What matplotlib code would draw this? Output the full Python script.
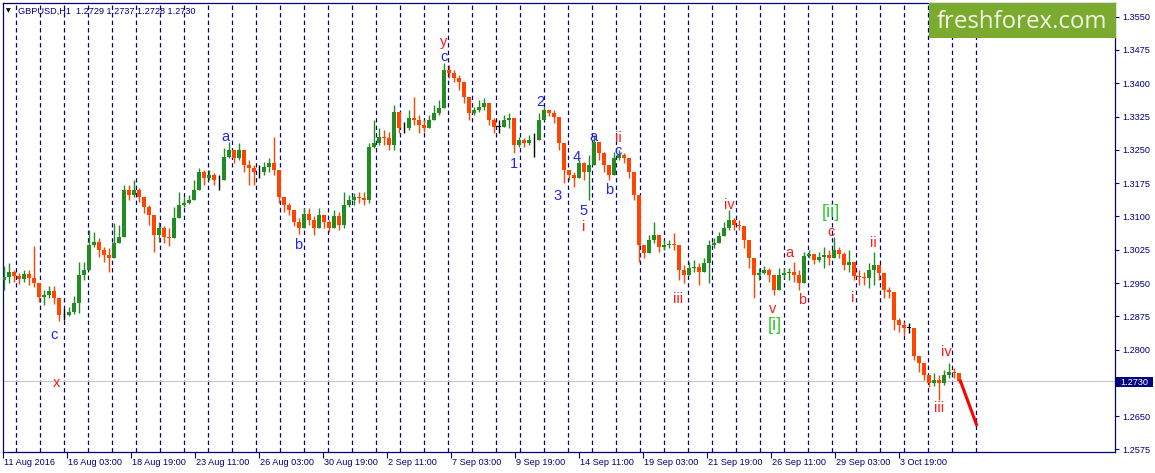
import numpy as np
import matplotlib
matplotlib.use("Agg")
import matplotlib.pyplot as plt
from matplotlib.patches import Rectangle
from matplotlib.transforms import ScaledTranslation

# GBPUSD H1, 11 Aug - 4 Oct 2016, every 5 hourly bars
first_open = 1.2957
close = [
    1.2964, 1.2975, 1.2966, 1.2959, 1.2970, 1.2961, 1.2950, 1.2919, 1.2923, 1.2932,
    1.2916, 1.2878, 1.2878, 1.2885, 1.2905, 1.2968, 1.2979, 1.3036, 1.3042, 1.3024,
    1.3013, 1.3006, 1.3040, 1.3054, 1.3160, 1.3148, 1.3160, 1.3144, 1.3121, 1.3103,
    1.3058, 1.3074, 1.3054, 1.3051, 1.3097, 1.3126, 1.3130, 1.3137, 1.3160, 1.3200,
    1.3187, 1.3193, 1.3182, 1.3182, 1.3234, 1.3250, 1.3232, 1.3250, 1.3216, 1.3209,
    1.3200, 1.3200, 1.3211, 1.3220, 1.3205, 1.3144, 1.3126, 1.3115, 1.3088, 1.3074,
    1.3106, 1.3092, 1.3074, 1.3103, 1.3088, 1.3074, 1.3101, 1.3081, 1.3126, 1.3137,
    1.3144, 1.3142, 1.3137, 1.3256, 1.3265, 1.3279, 1.3277, 1.3261, 1.3335, 1.3299,
    1.3299, 1.3322, 1.3317, 1.3306, 1.3299, 1.3317, 1.3333, 1.3344, 1.3430, 1.3423,
    1.3412, 1.3403, 1.3369, 1.3333, 1.3340, 1.3347, 1.3356, 1.3317, 1.3302,
    1.3302, 1.3317, 1.3322, 1.3261, 1.3272, 1.3265, 1.3272, 1.3272, 1.3317, 1.3340,
    1.3333, 1.3324, 1.3265, 1.3205, 1.3193, 1.3187, 1.3220, 1.3200, 1.3216, 1.3268,
    1.3243, 1.3216, 1.3193, 1.3232, 1.3238, 1.3232, 1.3200, 1.3148, 1.3036, 1.3018,
    1.3047, 1.3058, 1.3031, 1.3036, 1.3038, 1.3036, 1.2979, 1.2968, 1.2984, 1.2986,
    1.2975, 1.2995, 1.3036, 1.3040, 1.3056, 1.3074, 1.3092, 1.3081, 1.3079,
    1.3047, 1.3006, 1.2968, 1.2973, 1.2979, 1.2968, 1.2934, 1.2968, 1.2973, 1.2975,
    1.2968, 1.2950, 1.3011, 1.3015, 1.3002, 1.3009, 1.3013, 1.3006, 1.3024, 1.3015,
    1.2991, 1.2997, 1.2966, 1.2964, 1.2961, 1.2979, 1.2991, 1.2973, 1.2934, 1.2930,
    1.2867, 1.2855, 1.2849, 1.2849, 1.2786, 1.2770, 1.2743, 1.2725, 1.2732, 1.2725,
    1.2743, 1.2750, 1.2747, 1.2730,
]
high = [
    1.2988, 1.2995, 1.2979, 1.2973, 1.2979, 1.2979, 1.3033, 1.2950, 1.2934, 1.2943,
    1.2943, 1.2907, 1.2892, 1.2896, 1.2921, 1.2997, 1.2997, 1.3069, 1.3065, 1.3051,
    1.3031, 1.3029, 1.3085, 1.3081, 1.3171, 1.3171, 1.3182, 1.3164, 1.3142, 1.3126,
    1.3088, 1.3088, 1.3079, 1.3074, 1.3121, 1.3155, 1.3144, 1.3148, 1.3182, 1.3209,
    1.3205, 1.3205, 1.3198, 1.3193, 1.3254, 1.3268, 1.3250, 1.3265, 1.3238, 1.3227,
    1.3216, 1.3216, 1.3223, 1.3232, 1.3279, 1.3205, 1.3137, 1.3130, 1.3110, 1.3097,
    1.3119, 1.3119, 1.3101, 1.3119, 1.3103, 1.3092, 1.3115, 1.3110, 1.3155, 1.3148,
    1.3153, 1.3155, 1.3155, 1.3265, 1.3317, 1.3299, 1.3295, 1.3290, 1.3351, 1.3322,
    1.3313, 1.3340, 1.3369, 1.3329, 1.3317, 1.3329, 1.3351, 1.3362, 1.3446, 1.3441,
    1.3430, 1.3419, 1.3389, 1.3362, 1.3347, 1.3362, 1.3367, 1.3347, 1.3322,
    1.3317, 1.3329, 1.3333, 1.3313, 1.3279, 1.3277, 1.3283, 1.3288, 1.3333, 1.3347,
    1.3340, 1.3340, 1.3306, 1.3250, 1.3205, 1.3200, 1.3227, 1.3223, 1.3238, 1.3283,
    1.3261, 1.3245, 1.3216, 1.3245, 1.3250, 1.3243, 1.3216, 1.3182, 1.3092, 1.3031,
    1.3058, 1.3088, 1.3047, 1.3047, 1.3047, 1.3063, 1.3013, 1.2991, 1.2997, 1.3002,
    1.2995, 1.3006, 1.3047, 1.3051, 1.3065, 1.3088, 1.3115, 1.3097, 1.3092,
    1.3069, 1.3036, 1.2997, 1.2984, 1.2988, 1.2984, 1.2950, 1.2984, 1.2984, 1.2984,
    1.2997, 1.2979, 1.3020, 1.3024, 1.3013, 1.3020, 1.3031, 1.3024, 1.3054, 1.3031,
    1.3020, 1.3024, 1.2984, 1.2979, 1.2975, 1.2995, 1.3020, 1.2984, 1.2946, 1.2941,
    1.2900, 1.2871, 1.2862, 1.2860, 1.2844, 1.2781, 1.2765, 1.2741, 1.2747, 1.2743,
    1.2754, 1.2770, 1.2759, 1.2741,
]
low = [
    1.2934, 1.2950, 1.2952, 1.2948, 1.2952, 1.2946, 1.2941, 1.2907, 1.2900, 1.2916,
    1.2903, 1.2864, 1.2867, 1.2876, 1.2880, 1.2882, 1.2957, 1.3024, 1.3031, 1.3009,
    1.2997, 1.2975, 1.3031, 1.3040, 1.3054, 1.3137, 1.3144, 1.3133, 1.3108, 1.3081,
    1.3020, 1.3042, 1.3040, 1.3033, 1.3051, 1.3103, 1.3121, 1.3128, 1.3142, 1.3175,
    1.3171, 1.3182, 1.3171, 1.3160, 1.3191, 1.3232, 1.3220, 1.3227, 1.3200, 1.3171,
    1.3171, 1.3187, 1.3193, 1.3200, 1.3193, 1.3130, 1.3110, 1.3103, 1.3079, 1.3060,
    1.3088, 1.3081, 1.3058, 1.3074, 1.3074, 1.3065, 1.3081, 1.3069, 1.3074, 1.3121,
    1.3126, 1.3130, 1.3126, 1.3130, 1.3254, 1.3261, 1.3261, 1.3250, 1.3250, 1.3288,
    1.3288, 1.3295, 1.3306, 1.3288, 1.3290, 1.3302, 1.3317, 1.3329, 1.3385, 1.3412,
    1.3403, 1.3385, 1.3356, 1.3317, 1.3329, 1.3335, 1.3340, 1.3306, 1.3288,
    1.3288, 1.3306, 1.3299, 1.3243, 1.3256, 1.3256, 1.3261, 1.3234, 1.3290, 1.3324,
    1.3326, 1.3311, 1.3250, 1.3175, 1.3182, 1.3166, 1.3193, 1.3182, 1.3137, 1.3232,
    1.3227, 1.3200, 1.3182, 1.3209, 1.3227, 1.3220, 1.3187, 1.3137, 1.2997, 1.3006,
    1.3031, 1.3040, 1.3020, 1.3024, 1.3029, 1.3024, 1.2957, 1.2950, 1.2968, 1.2975,
    1.2946, 1.2979, 1.2950, 1.3029, 1.3042, 1.3058, 1.3069, 1.3069, 1.3069,
    1.3029, 1.2984, 1.2916, 1.2957, 1.2970, 1.2952, 1.2923, 1.2946, 1.2961, 1.2957,
    1.2952, 1.2934, 1.2968, 1.3006, 1.2993, 1.2997, 1.2984, 1.2991, 1.3013, 1.3006,
    1.2979, 1.2975, 1.2957, 1.2946, 1.2946, 1.2939, 1.2946, 1.2957, 1.2916, 1.2916,
    1.2844, 1.2840, 1.2833, 1.2838, 1.2777, 1.2750, 1.2732, 1.2716, 1.2718, 1.2687,
    1.2720, 1.2736, 1.2736, 1.2725,
]
bars_per_candle = 5

time_labels = ["11 Aug 2016", "16 Aug 03:00", "18 Aug 19:00", "23 Aug 11:00",
               "26 Aug 03:00", "30 Aug 19:00", "2 Sep 11:00", "7 Sep 03:00",
               "9 Sep 19:00", "14 Sep 11:00", "19 Sep 03:00", "21 Sep 19:00",
               "26 Sep 11:00", "29 Sep 03:00", "3 Oct 19:00"]
bars_per_label = 64
price_ticks = [1.2575, 1.2650, 1.2800, 1.2875, 1.2950, 1.3025, 1.3100, 1.3175,
               1.3250, 1.3325, 1.3400, 1.3475, 1.3550]
last_price = 1.2730
title = "GBPUSD,H1  1.2729 1.2737 1.2728 1.2730"

# elliott wave marks: text, bar, price, colour
wave_text = ["c", "x", "a", "b", "y", "c", "1", "2", "3", "4", "5", "i", "a", "ii", "c", "b",
             "iii", "iv", "v", "[i]", "a", "b", "[ii]", "c", "i", "ii", "iii", "iv"]
wave_bar = [51, 54, 222, 295, 441, 441, 511, 537, 555, 574, 581, 581, 590, 615, 615, 606,
            675, 726, 770, 772, 786, 799, 828, 828, 850, 870, 936, 943]
wave_price = [1.2833, 1.2725, 1.3279, 1.3036, 1.3493, 1.3459, 1.3218, 1.3358, 1.3146,
              1.3234, 1.3112, 1.3076, 1.3279, 1.3276, 1.3247, 1.3160, 1.2914, 1.3126,
              1.2891, 1.2855, 1.3018, 1.2912, 1.3108, 1.3065, 1.2916, 1.3040, 1.2668, 1.2795]
wave_kind = ["b", "r", "b", "b", "r", "b", "b", "b", "b", "b", "b", "r", "b", "r", "b", "b",
             "r", "r", "r", "g", "r", "r", "g", "r", "r", "r", "r", "r"]

# projected path
proj_bar = [957, 974]
proj_price = [1.2732, 1.2628]

W, H = 1155, 473
navy = "#000080"
bull, bear = "#228b22", "#ff4500"
kind_color = {"b": "#2222ff", "r": "#ff1a1a", "g": "#2ec82e"}

plt.rcParams["font.family"] = ["Liberation Sans", "DejaVu Sans"]

fig = plt.figure(figsize=(W / 100, H / 100), dpi=100)
fig.patch.set_facecolor("white")
ax = fig.add_axes([3 / W, 21 / H, 1112 / W, 449 / H])
ax.set_xlim(0, 1112)
ax.set_ylim(1.25693, 1.35808)
for s in ax.spines.values():
    s.set_color(navy)
    s.set_linewidth(0.9)

# day separators
for d in np.arange(13, 990, 24):
    ax.axvline(d, color=navy, lw=0.9, ls=(0, (3.5, 2.5)), zorder=1)

ax.axhline(last_price, color="#c8c8c8", lw=0.8, zorder=1.5)

# candles
c = np.array(close)
o = np.r_[first_open, c[:-1]]
hi = np.maximum(np.array(high), np.maximum(o, c))
lo = np.minimum(np.array(low), np.minimum(o, c))
xs = 1 + np.arange(len(c)) * bars_per_candle
cols = np.where(c > o, bull, np.where(c < o, bear, "black"))
ax.vlines(xs, lo, hi, colors=cols, lw=1.0, zorder=3)
body = c - o
body = np.where(np.abs(body) < 0.00008, 0.00008, body)
ax.bar(xs, body, bottom=o, width=3.6, color=cols, lw=0, zorder=4)

ax.plot(proj_bar, proj_price, color="#ff0000", lw=2.2, zorder=5, solid_capstyle="butt")

for t, b, p, k in zip(wave_text, wave_bar, wave_price, wave_kind):
    ax.text(b, p, t, color=kind_color[k], ha="center", va="center",
            fontsize=13 if k == "g" else 10.5, zorder=6)

# axes
ax.yaxis.tick_right()
ax.set_yticks(price_ticks)
ax.set_yticklabels([f"{p:.4f}" for p in price_ticks])
ax.tick_params(axis="y", direction="out", length=3, width=0.8, color=navy,
               labelcolor=navy, labelsize=6.6, pad=2)
ax.set_xticks(np.arange(len(time_labels)) * bars_per_label)
ax.set_xticklabels(time_labels)
ax.tick_params(axis="x", direction="out", length=4, width=0.8, color=navy,
               labelcolor=navy, labelsize=6.6, pad=0.5)
off = ScaledTranslation(1 / 100, 0, fig.dpi_scale_trans)
for lab in ax.get_xticklabels():
    lab.set_horizontalalignment("left")
    lab.set_transform(lab.get_transform() + off)

# price box
fig.patches.append(Rectangle((1115 / W, 1 - 387 / H), 38 / W, 10.5 / H,
                             transform=fig.transFigure, facecolor=navy, edgecolor="none", zorder=5))
fig.text(1120 / W, 1 - 382 / H, f"{last_price:.4f}", color="white", fontsize=6.6,
         va="center", ha="left", zorder=6)

# title
fig.text(6 / W, 1 - 11 / H, "\u25bc", family="DejaVu Sans", fontsize=4.5, color="black",
         va="center", ha="left")
fig.text(18 / W, 1 - 11 / H, title, color=navy, fontsize=6.6, va="center", ha="left")

# watermark
fig.patches.append(Rectangle((929 / W, 1 - 38 / H), 187 / W, 35 / H,
                             transform=fig.transFigure, facecolor="#7aab2e", edgecolor="none", zorder=5))
fig.text(1022 / W, 1 - 28.5 / H, "freshforex.com", family="Open Sans", fontsize=17.3,
         color="#f2f6e6", ha="center", va="baseline", zorder=6)

fig.savefig("out.png", dpi=100)
